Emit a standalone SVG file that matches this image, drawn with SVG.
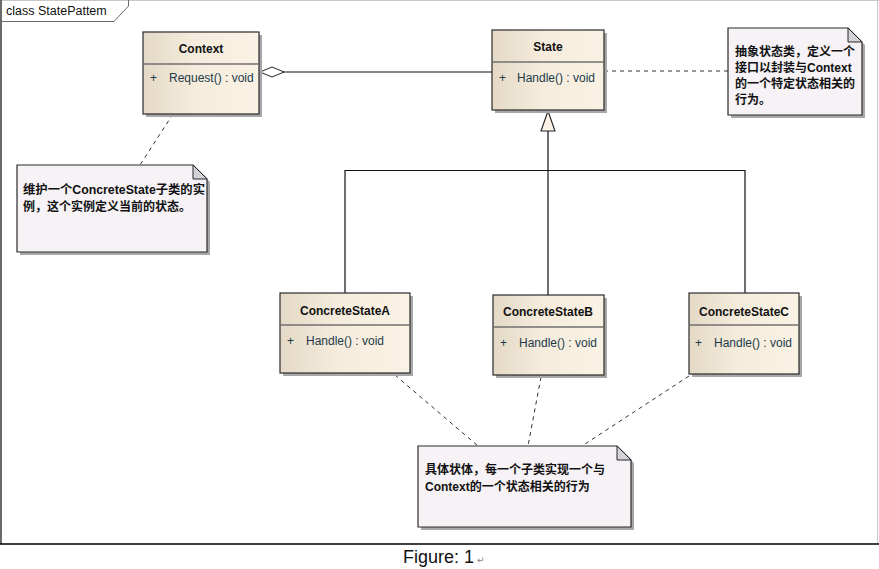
<svg xmlns="http://www.w3.org/2000/svg" width="879" height="569" viewBox="0 0 879 569">
<defs>
<linearGradient id="cls" x1="0" y1="0" x2="1" y2="0">
<stop offset="0" stop-color="#e4d9c6"/>
<stop offset="0.45" stop-color="#f5ecdd"/>
<stop offset="1" stop-color="#faf2e4"/>
</linearGradient>
<marker id="diamond" viewBox="0 0 26 12" refX="0" refY="6" markerWidth="26" markerHeight="12" markerUnits="userSpaceOnUse" orient="auto">
<path d="M1 6 L13 1 L25 6 L13 11 Z" fill="#ffffff" stroke="#222" stroke-width="1"/>
</marker>
</defs>
<style>
.shadow{fill:#a8a8a8;}
.box{fill:url(#cls);stroke:#2b2b2b;stroke-width:1.2;}
.sep{stroke:#707070;stroke-width:1.6;}
.title{font-family:"Liberation Sans",Arial,sans-serif;font-size:12px;font-weight:bold;fill:#111;text-anchor:middle;}
.attr{font-family:"Liberation Sans",Arial,sans-serif;font-size:12px;fill:#1c3a4a;}
.note{fill:#f6f2f6;stroke:#2b2b2b;stroke-width:1.2;}
.fold{fill:#d2d2d8;stroke:#2b2b2b;stroke-width:1;}
.ntext{font-family:"Liberation Sans","Noto Sans CJK SC",sans-serif;font-size:12px;font-weight:bold;fill:#111;}
.line{stroke:#111;stroke-width:1.2;fill:none;}
.dash{stroke:#333;stroke-width:1;stroke-dasharray:4 4;fill:none;}
</style>
<rect x="0" y="0" width="879" height="569" fill="#ffffff"/>
<g id="frame">
<line x1="0" y1="0.5" x2="879" y2="0.5" stroke="#c8c8c8" stroke-width="1"/>
<line x1="877.5" y1="0" x2="877.5" y2="544" stroke="#c8c8c8" stroke-width="1"/>
<line x1="1" y1="0" x2="1" y2="544" stroke="#6a6a6a" stroke-width="2"/>
<line x1="0" y1="544" x2="879" y2="544" stroke="#000" stroke-width="1.6"/>
<path d="M1 21.5 L114 21.5 L128.5 6 L128.5 0" fill="none" stroke="#6a6a6a" stroke-width="1"/>
<text x="6" y="15" font-family="Liberation Sans,Arial,sans-serif" font-size="12.5" fill="#111">class StatePattem</text>
</g>
<g id="connectors">
<line class="line" x1="259" y1="72" x2="492" y2="72" marker-start="url(#diamond)"/>
<line class="dash" x1="604" y1="71" x2="728" y2="71"/>
<line class="dash" x1="173" y1="114" x2="140" y2="165"/>
<path class="line" d="M548 131 L548 295 M345 170.5 L745 170.5 M345 170 L345 293 M745 170 L745 293"/>
<path d="M548 111 L541 131 L555 131 Z" fill="#fcf3e6" stroke="#222" stroke-width="1.1"/>
<line class="dash" x1="395" y1="375" x2="478" y2="446"/>
<line class="dash" x1="541" y1="377" x2="528" y2="446"/>
<line class="dash" x1="689" y1="376" x2="582" y2="446"/>
</g>
<g id="Context">
<rect class="shadow" x="146" y="35" width="116" height="82"/>
<rect class="box" x="143" y="32" width="116" height="82"/>
<line class="sep" x1="143" y1="64" x2="259" y2="64"/>
<text class="title" x="201" y="53">Context</text>
<text class="attr" x="150" y="82">+</text>
<text class="attr" x="169" y="82">Request() : void</text>
</g>
<g id="State">
<rect class="shadow" x="495" y="33" width="112" height="80"/>
<rect class="box" x="492" y="30" width="112" height="80"/>
<line class="sep" x1="492" y1="62" x2="604" y2="62"/>
<text class="title" x="548" y="51">State</text>
<text class="attr" x="499" y="82">+</text>
<text class="attr" x="517" y="82">Handle() : void</text>
</g>
<g id="ConcreteStateA">
<rect class="shadow" x="283" y="296" width="130" height="80"/>
<rect class="box" x="280" y="293" width="130" height="80"/>
<line class="sep" x1="280" y1="325" x2="410" y2="325"/>
<text class="title" x="345" y="315">ConcreteStateA</text>
<text class="attr" x="287" y="345">+</text>
<text class="attr" x="306" y="345">Handle() : void</text>
</g>
<g id="ConcreteStateB">
<rect class="shadow" x="496" y="298" width="111" height="80"/>
<rect class="box" x="493" y="295" width="111" height="80"/>
<line class="sep" x1="493" y1="327" x2="604" y2="327"/>
<text class="title" x="548" y="316">ConcreteStateB</text>
<text class="attr" x="500" y="347">+</text>
<text class="attr" x="519" y="347">Handle() : void</text>
</g>
<g id="ConcreteStateC">
<rect class="shadow" x="692" y="296" width="110" height="81"/>
<rect class="box" x="689" y="293" width="110" height="81"/>
<line class="sep" x1="689" y1="325" x2="799" y2="325"/>
<text class="title" x="744" y="316">ConcreteStateC</text>
<text class="attr" x="695" y="347">+</text>
<text class="attr" x="714" y="347">Handle() : void</text>
</g>
<g id="NoteState">
<path class="shadow" d="M731 31 H851 L865 45 V118 H731 Z"/>
<path class="note" d="M728 28 H848 L862 42 V115 H728 Z"/>
<path class="fold" d="M848 28 L862 42 L848 42 Z"/>
<text class="ntext" x="735" y="56">抽象状态类，定义一个</text>
<text class="ntext" x="735" y="72">接口以封装与Context</text>
<text class="ntext" x="735" y="88">的一个特定状态相关的</text>
<text class="ntext" x="735" y="104">行为。</text>
</g>
<g id="NoteContext">
<path class="shadow" d="M20 168 H196 L210 182 V255 H20 Z"/>
<path class="note" d="M17 165 H193 L207 179 V252 H17 Z"/>
<path class="fold" d="M193 165 L207 179 L193 179 Z"/>
<text class="ntext" x="23" y="194" textLength="182" lengthAdjust="spacingAndGlyphs">维护一个ConcreteState子类的实</text>
<text class="ntext" x="23" y="211">例，这个实例定义当前的状态。</text>
</g>
<g id="NoteConcrete">
<path class="shadow" d="M421 449 H620 L634 463 V530 H421 Z"/>
<path class="note" d="M418 446 H617 L631 460 V527 H418 Z"/>
<path class="fold" d="M617 446 L631 460 L617 460 Z"/>
<text class="ntext" x="425" y="474">具体状体，每一个子类实现一个与</text>
<text class="ntext" x="425" y="491">Context的一个状态相关的行为</text>
</g>
<g id="caption">
<text x="403" y="563" font-family="Liberation Sans,Arial,sans-serif" font-size="18" fill="#111">Figure: 1</text>
<text x="477" y="563" font-family="DejaVu Sans,sans-serif" font-size="9" fill="#888">↵</text>
</g>
</svg>
